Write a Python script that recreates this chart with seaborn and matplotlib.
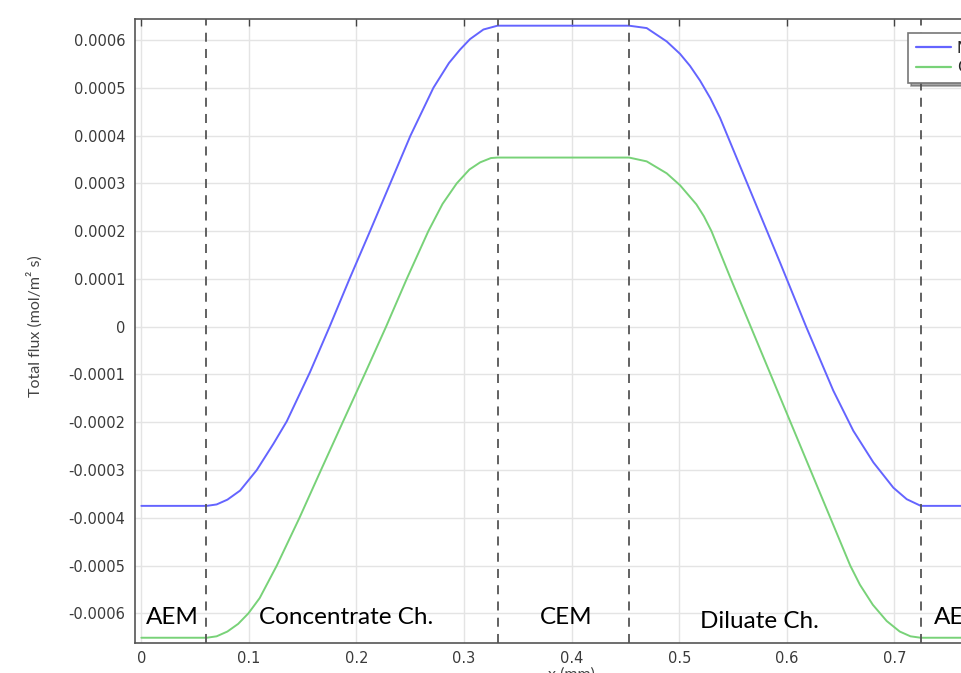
import numpy as np
import pandas as pd
import matplotlib
matplotlib.use("Agg")
import matplotlib.pyplot as plt
import seaborn as sns
from matplotlib.ticker import FuncFormatter, MultipleLocator

# ---- data ----
na_x = [0.0000, 0.0608, 0.0700, 0.0800, 0.0918, 0.1073, 0.1228, 0.1352, 0.1568,
        0.1750, 0.1935, 0.2126, 0.2314, 0.2502, 0.2715, 0.2860, 0.2963, 0.3056,
        0.3180, 0.3311, 0.4534, 0.4698, 0.4884, 0.5008, 0.5100, 0.5194, 0.5290,
        0.5380, 0.5566, 0.5752, 0.5938, 0.6180, 0.6433, 0.6619, 0.6805, 0.6991,
        0.7115, 0.7246, 0.7840]
na_flux = [-0.000375, -0.000375, -0.000372, -0.000362, -0.000343, -0.000300,
           -0.000245, -0.000198, -0.000095, 0.000000, 0.000100, 0.000200,
           0.000300, 0.000400, 0.000500, 0.000552, 0.000580, 0.000602,
           0.000622, 0.000630, 0.000630, 0.000625, 0.000597, 0.000571,
           0.000546, 0.000515, 0.000478, 0.000437, 0.000336, 0.000235,
           0.000134, 0.000000, -0.000134, -0.000218, -0.000284, -0.000337,
           -0.000361, -0.000375, -0.000375]

cl_x = [0.0000, 0.0608, 0.0700, 0.0800, 0.0900, 0.0995, 0.1100, 0.1259, 0.1470,
        0.1670, 0.1872, 0.2075, 0.2275, 0.2467, 0.2668, 0.2800, 0.2932, 0.3050,
        0.3150, 0.3250, 0.3311, 0.4534, 0.4698, 0.4884, 0.5008, 0.5160, 0.5230,
        0.5300, 0.5480, 0.5665, 0.5850, 0.6035, 0.6220, 0.6405, 0.6590, 0.6680,
        0.6800, 0.6929, 0.7050, 0.7150, 0.7246, 0.7840]
cl_flux = [-0.000651, -0.000651, -0.000648, -0.000638, -0.000622, -0.000600,
           -0.000568, -0.000500, -0.000400, -0.000300, -0.000200, -0.000100,
           0.000000, 0.000100, 0.000200, 0.000257, 0.000300, 0.000329,
           0.000344, 0.000353, 0.000354, 0.000354, 0.000346, 0.000321,
           0.000296, 0.000256, 0.000231, 0.000200, 0.000100, 0.000000,
           -0.000100, -0.000200, -0.000300, -0.000400, -0.000500, -0.000540,
           -0.000582, -0.000616, -0.000638, -0.000648, -0.000651, -0.000651]

series_names = ["Na", "Cl"]
boundaries = [0.0605, 0.3311, 0.4534, 0.7246]
region_labels = ["AEM", "Concentrate Ch.", "CEM", "Diluate Ch.", "AEM"]
region_x = [0.0045, 0.190, 0.395, 0.575, 0.7365]
region_y = [-0.000608, -0.000608, -0.000608, -0.000616, -0.000608]
region_ha = ["left", "center", "center", "center", "left"]

df = pd.concat([
    pd.DataFrame({"x": na_x, "flux": na_flux, "ion": series_names[0]}),
    pd.DataFrame({"x": cl_x, "flux": cl_flux, "ion": series_names[1]}),
])

# ---- figure ----
sns.set_theme(style="white")
plt.rcParams["font.family"] = ["DejaVu Sans"]
plt.rcParams["lines.solid_joinstyle"] = "round"

W, H = 961, 673
fig = plt.figure(figsize=(W / 100, H / 100), dpi=100)
xmin, xmax = -0.0059, 0.79
ymin, ymax = -0.000662, 0.000644
px_per_unit = 1075.7
ax_w = (xmax - xmin) * px_per_unit / W
ax = fig.add_axes([135 / W, 30 / H, ax_w, 624 / H])

sns.lineplot(data=df, x="x", y="flux", hue="ion", estimator=None, sort=True,
             palette={"Na": "#6464ff", "Cl": "#78d278"}, linewidth=1.4,
             ax=ax, legend=False)

for b in boundaries:
    ax.axvline(b, color="#555555", lw=1.3, ls=(0, (5, 4)), zorder=3)

for lab, x, y, ha in zip(region_labels, region_x, region_y, region_ha):
    ax.text(x, y, lab, ha=ha, va="center", fontsize=17.5, family="Lato",
            color="black", zorder=4)

ax.set_xlim(xmin, xmax)
ax.set_ylim(ymin, ymax)
ax.xaxis.set_major_locator(MultipleLocator(0.1))
ax.yaxis.set_major_locator(MultipleLocator(0.0001))
ax.xaxis.set_major_formatter(FuncFormatter(lambda v, p: "0" if abs(v) < 1e-9 else f"{v:.1f}"))
ax.yaxis.set_major_formatter(FuncFormatter(lambda v, p: "0" if abs(v) < 1e-9 else f"{v:.4f}"))
ax.grid(True, color="#e4e4e4", lw=1)
ax.set_axisbelow(True)
ax.tick_params(direction="in", top=True, right=True, length=5, width=1,
               color="#444444", labelsize=10.5, labelcolor="#3a3a3a")
ax.tick_params(axis="y", pad=7)
ax.tick_params(axis="x", pad=6)
for s in ax.spines.values():
    s.set_color("#555555")
    s.set_linewidth(1.2)

ax.set_xlabel("x (mm)", family="Lato", fontsize=11.5, color="#444444")
ax.xaxis.set_label_coords(571 / W, 1 - 667 / H, transform=fig.transFigure)
ax.set_ylabel("Total flux (mol/m² s)", family="Lato", fontsize=11.5, color="#444444")
ax.yaxis.set_label_coords(43 / W, 1 - 326 / H, transform=fig.transFigure)

handles = [plt.Line2D([], [], color="#6464ff", lw=1.6),
           plt.Line2D([], [], color="#78d278", lw=1.6)]
leg = ax.legend(handles, series_names, loc="upper left",
                bbox_to_anchor=(908 / W, 1 - 33 / H), bbox_transform=fig.transFigure,
                borderaxespad=0, frameon=True, fancybox=False, shadow=True,
                edgecolor="#777777", fontsize=11, handlelength=2.3,
                handletextpad=0.4, borderpad=0.5, labelspacing=0.3)
leg.get_frame().set_linewidth(1.2)

fig.savefig("out.png", dpi=100)
